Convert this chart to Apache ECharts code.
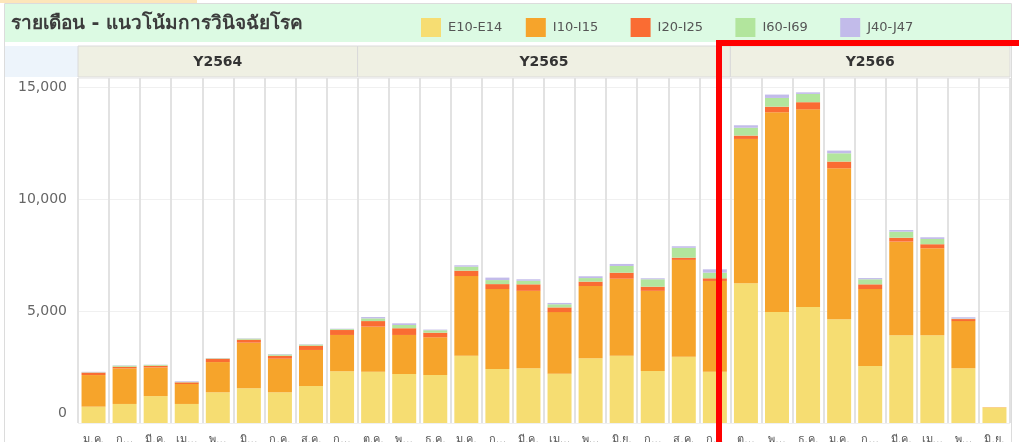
<!DOCTYPE html>
<html>
<head>
<meta charset="utf-8">
<script src="https://cdn.jsdelivr.net/npm/echarts@6/dist/echarts.min.js"></script>
<style>
  html, body { margin: 0; padding: 0; background: #fff; }
  #chart { width: 1019px; height: 442px; }
</style>
</head>
<body>
<div id="chart"></div>
<script>
  // year panels and their month columns
  const years = ['Y2564', 'Y2565', 'Y2566'];
  const yearColumns = [9, 12, 9];
  const months = [
    'ม.ค.', 'ก...', 'มี.ค.', 'เม...', 'พ...', 'มิ...', 'ก.ค.', 'ส.ค.', 'ก...',
    'ต.ค.', 'พ...', 'ธ.ค.', 'ม.ค.', 'ก...', 'มี.ค.', 'เม...', 'พ...', 'มิ.ย.', 'ก...', 'ส.ค.', 'ก...',
    'ต...', 'พ...', 'ธ.ค.', 'ม.ค.', 'ก...', 'มี.ค.', 'เม...', 'พ...', 'มิ.ย.',
  ];

  const groupNames = ['E10-E14', 'I10-I15', 'I20-I25', 'I60-I69', 'J40-J47'];
  const groupColors = ['#f6dd72', '#f6a42b', '#fa6c33', '#b2e59d', '#c2bbea'];

  const e10 = [
    730, 850, 1200, 850, 1370, 1550, 1370, 1650, 2310,
    2290, 2190, 2140, 3000, 2410, 2440, 2200, 2890, 3000, 2320, 2960, 2290,
    6240, 4955, 5180, 4630, 2545, 3915, 3915, 2440, 680,
  ];
  const i10 = [
    1410, 1590, 1280, 890, 1350, 2035, 1500, 1610, 1620,
    2010, 1740, 1685, 3560, 3570, 3460, 2750, 3225, 3440, 3580, 4320, 4050,
    6440, 8915, 8820, 6740, 3435, 4180, 3885, 2110, 20,
  ];
  const i20 = [
    110, 70, 75, 75, 150, 135, 130, 190, 220,
    250, 300, 205, 240, 220, 290, 210, 195, 270, 185, 100, 120,
    150, 250, 320, 300, 210, 175, 180, 90, 0,
  ];
  const i60 = [
    15, 50, 40, 20, 20, 45, 60, 50, 40,
    120, 145, 110, 180, 180, 160, 140, 160, 300, 330, 440, 250,
    350, 390, 370, 370, 225, 270, 235, 20, 0,
  ];
  const j40 = [
    20, 15, 10, 30, 10, 15, 20, 15, 20,
    60, 75, 30, 60, 110, 65, 60, 80, 90, 45, 70, 150,
    110, 150, 70, 120, 55, 75, 75, 60, 0,
  ];
  const groupValues = [e10, i10, i20, i60, j40];

  const yTicks = [0, 5000, 10000, 15000];

  const chart = echarts.init(document.getElementById('chart'));
  const font = '"DejaVu Sans", "Noto Sans", sans-serif';

  const option = {
    animation: false,
    color: groupColors,
    // one legend per item so every entry sits in a fixed-width slot
    legend: groupNames.map((name, k) => ({
      left: 421 + k * 104.8,
      top: 18,
      padding: 0,
      itemWidth: 20,
      itemHeight: 19,
      itemGap: 7,
      icon: 'rect',
      data: [name],
      textStyle: { fontFamily: font, fontSize: 13, color: '#555', padding: [0, 0, 0, 2] },
    })),
    grid: { left: 78, right: 9, top: 78, bottom: 19, outerBoundsMode: 'none' },
    xAxis: {
      type: 'category',
      data: months,
      axisLine: { show: false },
      axisTick: { show: false },
      axisLabel: { interval: 0, margin: 12, fontFamily: font, fontSize: 11, color: '#555' },
      splitLine: { show: true, interval: 0, lineStyle: { color: '#e2e2e2', width: 2 } },
    },
    yAxis: {
      type: 'value',
      min: 0,
      max: 15400,
      interval: 5000,
      axisLine: { show: false },
      axisTick: { show: false },
      axisLabel: {
        margin: 11,
        fontFamily: font,
        fontSize: 14,
        color: '#666',
        showMaxLabel: false,
        formatter: (v) => (yTicks.includes(v) ? (v === 0 ? '{z|0}' : v.toLocaleString('en-US')) : ''),
        rich: { z: { fontFamily: font, fontSize: 14, color: '#666', padding: [0, 0, 20, 0] } },
      },
      splitLine: { lineStyle: { color: '#f0f0f0', width: 1 } },
    },
    series: groupNames.map((name, k) => ({
      name: name,
      type: 'bar',
      stack: 'total',
      barWidth: 24,
      data: groupValues[k],
    })),
  };
  chart.setOption(option);

  // header bands built from the axis scale
  const x0 = chart.convertToPixel({ xAxisIndex: 0 }, 0);
  const step = chart.convertToPixel({ xAxisIndex: 0 }, 1) - x0;
  const graphics = [
    { type: 'rect', shape: { x: 0, y: 0, width: 197, height: 3 }, style: { fill: '#fde6ba' } },
    { type: 'rect', shape: { x: 5, y: 4, width: 1006, height: 38 }, style: { fill: '#dcfae3' } },
    { type: 'rect', shape: { x: 5, y: 46, width: 73, height: 31 }, style: { fill: '#edf4fb' } },
    {
      type: 'text',
      x: 11,
      y: 24,
      style: {
        text: 'รายเดือน - แนวโน้มการวินิจฉัยโรค',
        font: 'bold 19px ' + font,
        fill: '#3c3c3c',
        verticalAlign: 'middle',
      },
    },
  ];
  let start = 0;
  years.forEach((y, i) => {
    const left = x0 - step / 2 + start * step;
    const w = yearColumns[i] * step;
    graphics.push({
      type: 'rect',
      shape: { x: left, y: 46, width: w, height: 31 },
      style: { fill: '#eff0e3', stroke: '#dadada', lineWidth: 1 },
    });
    graphics.push({
      type: 'text',
      x: left + w / 2,
      y: 62,
      style: { text: y, font: 'bold 14px ' + font, fill: '#333', align: 'center', verticalAlign: 'middle' },
    });
    start += yearColumns[i];
  });
  graphics.push({
    type: 'rect',
    shape: { x: 4.5, y: 3.5, width: 1007, height: 460 },
    style: { fill: 'none', stroke: '#dcdcdc', lineWidth: 1 },
    z: 50,
  });
  graphics.push({
    type: 'rect',
    shape: { x: 719, y: 43, width: 303, height: 420 },
    style: { fill: 'none', stroke: '#ff0000', lineWidth: 6 },
    z: 100,
  });
  chart.setOption({ graphic: graphics });
</script>
</body>
</html>
